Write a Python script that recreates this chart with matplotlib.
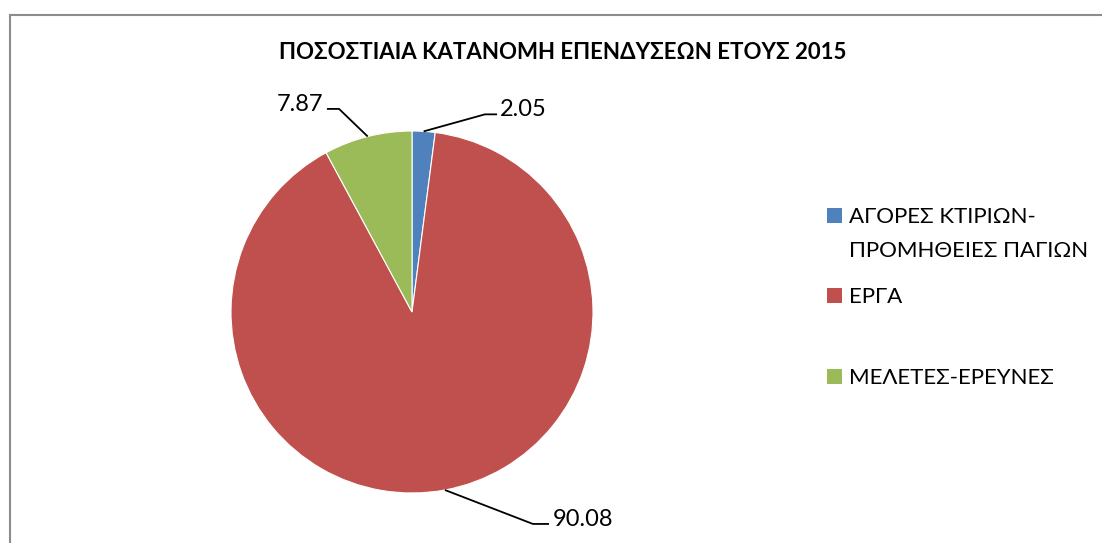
import matplotlib
matplotlib.use('Agg')
import matplotlib.pyplot as plt
from matplotlib.patches import Rectangle
import numpy as np

# data
title = 'ΠΟΣΟΣΤΙΑΙΑ ΚΑΤΑΝΟΜΗ ΕΠΕΝΔΥΣΕΩΝ ΕΤΟΥΣ 2015'
categories = ['ΑΓΟΡΕΣ ΚΤΙΡΙΩΝ-\nΠΡΟΜΗΘΕΙΕΣ ΠΑΓΙΩΝ', 'ΕΡΓΑ', 'ΜΕΛΕΤΕΣ-ΕΡΕΥΝΕΣ']
values = [2.05, 90.08, 7.87]
colors = ['#4f81bd', '#c0504d', '#9bbb59']

W, H = 1102, 543
plt.rcParams['font.family'] = ['Lato', 'DejaVu Sans']

fig = plt.figure(figsize=(W / 100, H / 100), dpi=100)

# chart frame (gray, open at right and bottom)
fig.add_artist(Rectangle((10 / W, -0.1), 1.2, (H - 15) / H + 0.1, transform=fig.transFigure,
                         fill=False, edgecolor='#8c8c8c', linewidth=1.5))

fig.text(563 / W, 1 - 59 / H, title, ha='center', va='baseline',
         fontsize=16, fontweight='bold')

# pie placed so that centre ~ (412, 312) px, radius ~ 181 px
cx, cy, r = 412, 312, 181
ax = fig.add_axes([(cx - r) / W, (H - cy - r) / H, 2 * r / W, 2 * r / H])
wedges, _ = ax.pie(values, colors=colors, startangle=90, counterclock=False,
                   radius=1, wedgeprops=dict(linewidth=0.8, edgecolor='white'))
ax.set_xlim(-1, 1)
ax.set_ylim(-1, 1)
ax.set_aspect('equal')
ax.axis('off')

# leader lines: (bend point, end point) in axes data units
leaders = [((0.403, 1.092), (0.470, 1.092), 'left'),
           ((0.668, -1.171), (0.757, -1.171), 'left'),
           ((-0.403, 1.122), (-0.470, 1.122), 'right')]
for w, v, (bend, end, ha) in zip(wedges, values, leaders):
    mid = np.deg2rad((w.theta1 + w.theta2) / 2)
    x0, y0 = np.cos(mid), np.sin(mid)
    ax.plot([x0, bend[0], end[0]], [y0, bend[1], end[1]], color='black',
            linewidth=1.3, clip_on=False, solid_capstyle='butt')
    dx = 0.018 if ha == 'left' else -0.018
    ax.text(end[0] + dx, end[1] - 0.01, '%.2f' % v, ha=ha, va='baseline', fontsize=17)

# legend drawn by hand to keep the uneven spacing
legend_y = [215.5, 295, 376.5]
legend_base = [223, 302.7, 384]
for lab, col, y, b in zip(categories, colors, legend_y, legend_base):
    fig.add_artist(Rectangle((827 / W, 1 - (y + 7.5) / H), 15 / W, 15 / H,
                             transform=fig.transFigure, facecolor=col, edgecolor='none'))
    lines = lab.split('\n')
    for i, t in enumerate(lines):
        fig.text(849 / W, 1 - (b + i * 33.7) / H, t, ha='left', va='baseline', fontsize=16)

fig.savefig('out.png', dpi=100)
